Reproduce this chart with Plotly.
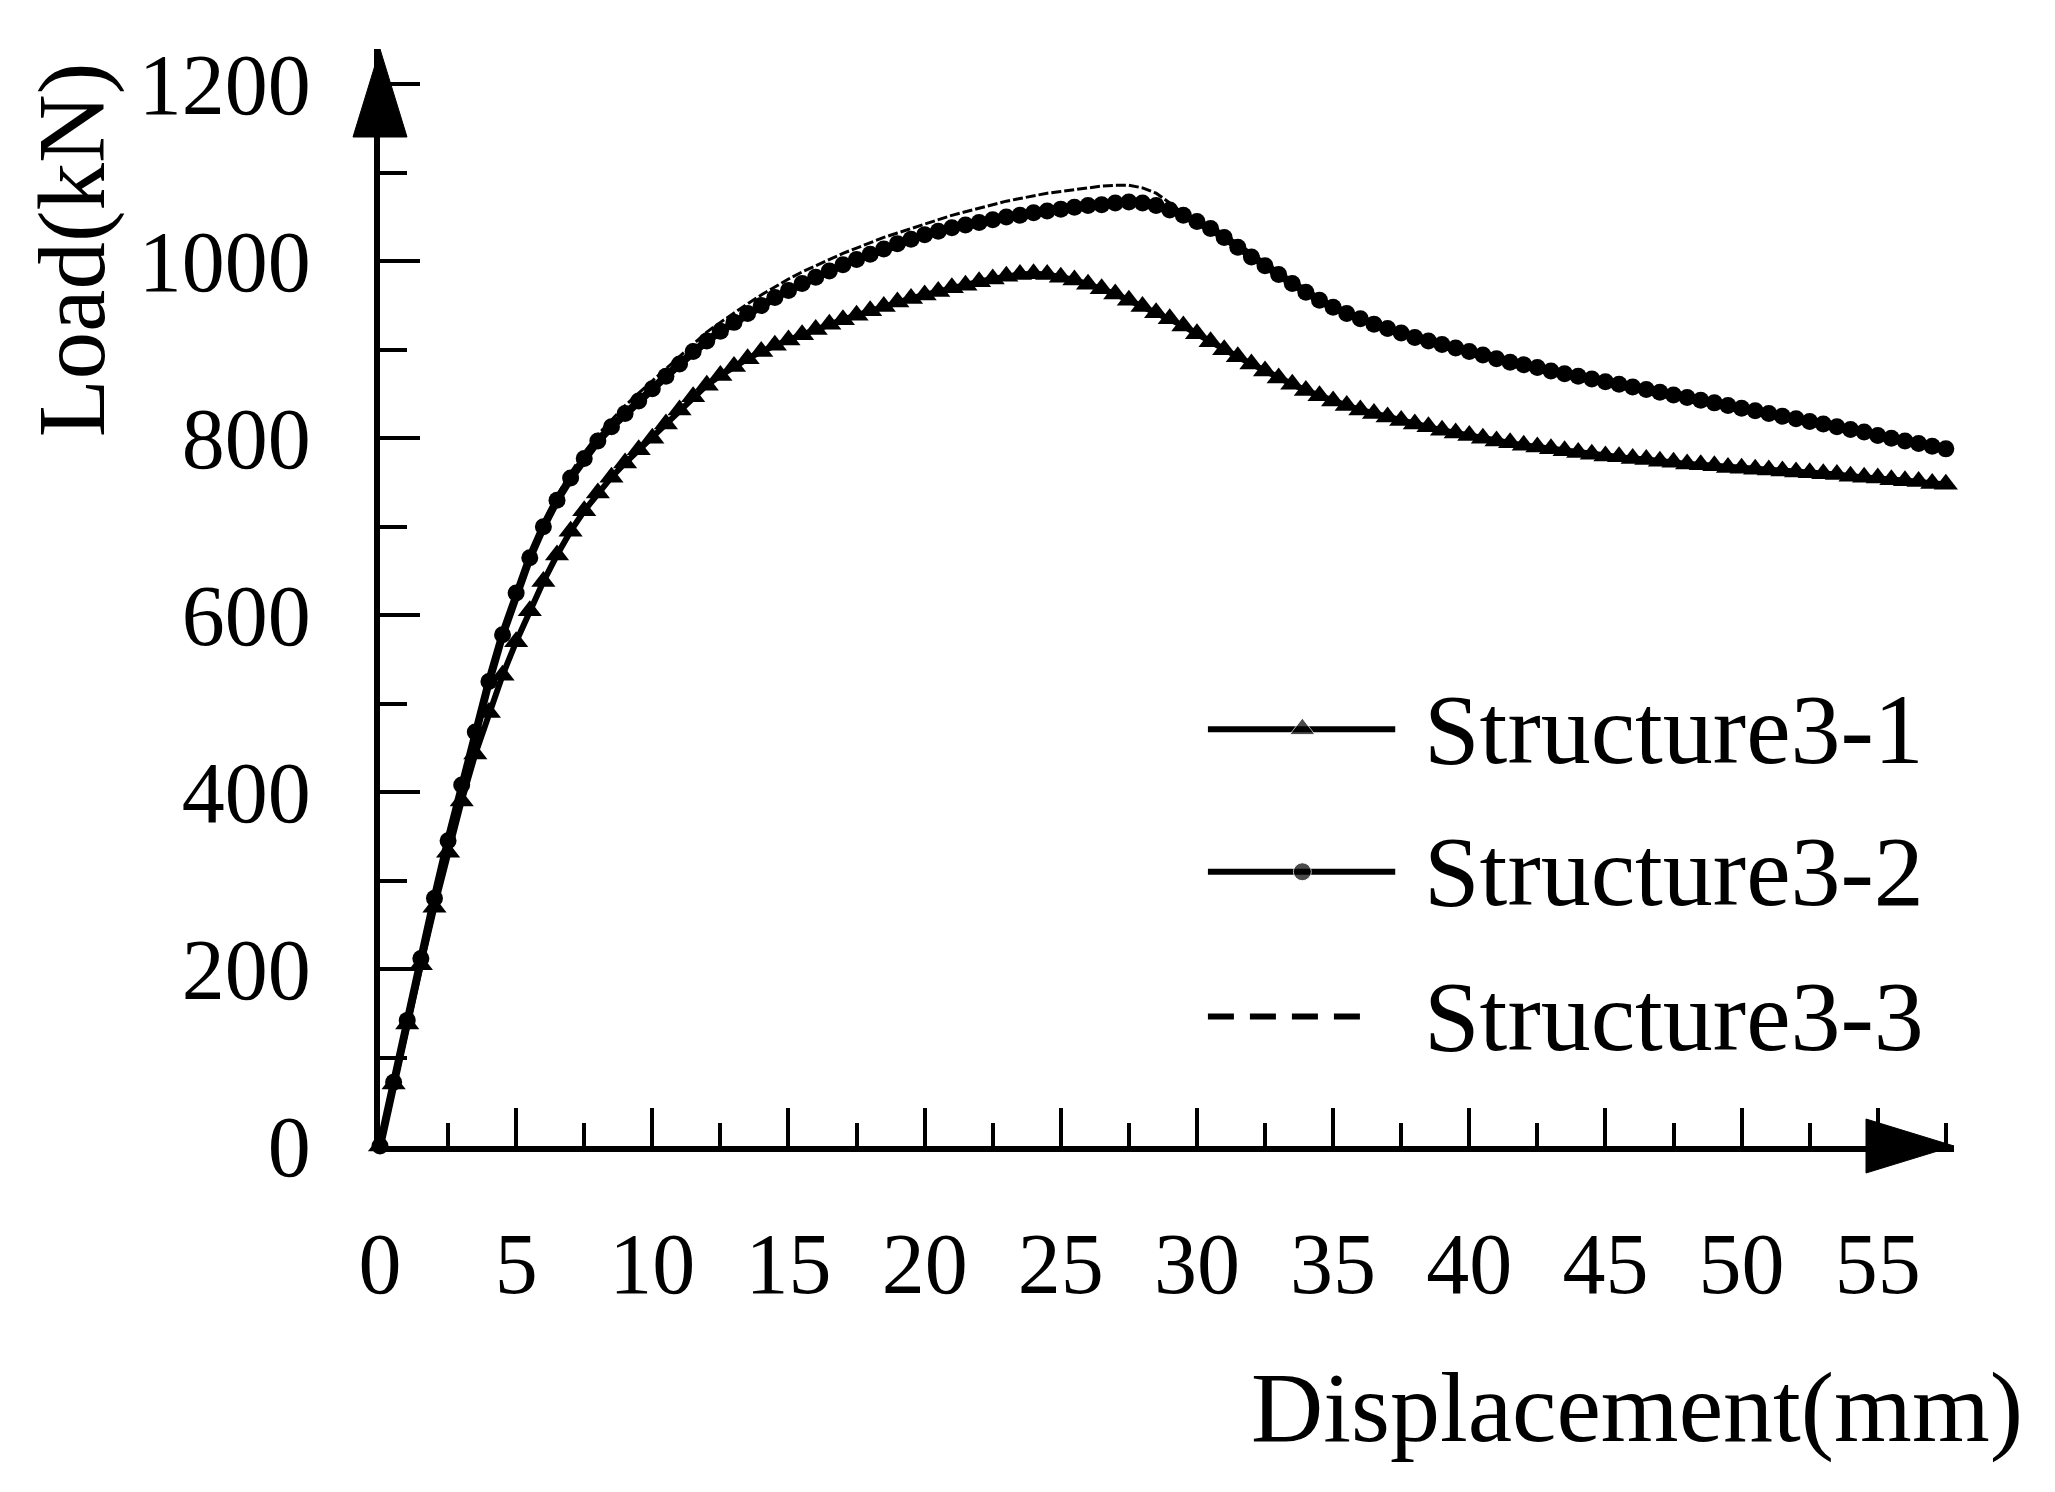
import plotly.graph_objects as go

# Load-displacement curves (0.5 mm sampling)
displacement = [
    0, 0.5, 1, 1.5, 2, 2.5, 3, 3.5, 4, 4.5, 5, 5.5, 6, 6.5, 7, 7.5, 8, 8.5, 9, 9.5,
    10, 10.5, 11, 11.5, 12, 12.5, 13, 13.5, 14, 14.5, 15, 15.5, 16, 16.5, 17, 17.5, 18, 18.5, 19, 19.5,
    20, 20.5, 21, 21.5, 22, 22.5, 23, 23.5, 24, 24.5, 25, 25.5, 26, 26.5, 27, 27.5, 28, 28.5, 29, 29.5,
    30, 30.5, 31, 31.5, 32, 32.5, 33, 33.5, 34, 34.5, 35, 35.5, 36, 36.5, 37, 37.5, 38, 38.5, 39, 39.5,
    40, 40.5, 41, 41.5, 42, 42.5, 43, 43.5, 44, 44.5, 45, 45.5, 46, 46.5, 47, 47.5, 48, 48.5, 49, 49.5,
    50, 50.5, 51, 51.5, 52, 52.5, 53, 53.5, 54, 54.5, 55, 55.5, 56, 56.5, 57, 57.5,
]

structure3_1 = [
    0, 70, 138, 205, 270, 332, 390, 443, 490, 532, 570, 605, 638, 668, 695, 718, 738, 756, 772, 787,
    800, 816, 832, 847, 860, 871, 881, 890, 898, 905, 911, 917, 923, 929, 934, 939, 944, 949, 954, 958,
    962, 966, 970, 973, 977, 980, 983, 985, 986, 985, 982, 979, 974, 969, 963, 956, 949, 942, 935, 927,
    918, 909, 900, 892, 884, 876, 868, 861, 854, 848, 842, 837, 832, 828, 824, 820, 816, 813, 809, 806,
    803, 800, 797, 795, 792, 790, 788, 786, 784, 782, 780, 779, 777, 776, 774, 773, 771, 770, 769, 767,
    766, 765, 764, 763, 762, 761, 760, 759, 757, 756, 755, 753, 752, 751, 749, 748,
]

structure3_2 = [
    0, 72, 142, 212, 280, 345, 408, 468, 525, 578, 625, 665, 700, 730, 755, 777, 797, 813, 828, 842,
    856, 870, 884, 898, 910, 921, 931, 941, 950, 959, 967, 975, 982, 989, 996, 1002, 1008, 1014, 1020, 1025,
    1030, 1034, 1038, 1041, 1044, 1047, 1050, 1052, 1055, 1057, 1059, 1061, 1063, 1064, 1066, 1067, 1066, 1063, 1058, 1052,
    1045, 1037, 1027, 1016, 1005, 995, 985, 975, 965, 956, 948, 941, 935, 929, 924, 919, 914, 910, 906, 902,
    898, 894, 890, 886, 883, 880, 876, 873, 870, 867, 864, 861, 858, 855, 852, 849, 846, 843, 840, 837,
    834, 831, 828, 825, 822, 819, 816, 813, 810, 807, 803, 800, 797, 794, 791, 788,
]

structure3_3 = [
    0, 73, 143, 213, 282, 347, 410, 470, 527, 580, 628, 669, 705, 735, 761, 784, 804, 821, 837, 851,
    865, 879, 893, 907, 920, 931, 942, 952, 962, 971, 980, 988, 995, 1002, 1009, 1015, 1021, 1027, 1032, 1037,
    1042, 1047, 1052, 1056, 1060, 1064, 1068, 1071, 1074, 1077, 1079, 1081, 1083, 1085, 1086, 1086, 1083, 1077, 1066, 1054,
    1045, 1037, 1027, 1016, 1005, 995, 985, 975, 965, 956, 948, 941, 935, 929, 924, 919, 914, 910, 906, 902,
    898, 894, 890, 886, 883, 880, 876, 873, 870, 867, 864, 861, 858, 855, 852, 849, 846, 843, 840, 837,
    834, 831, 828, 825, 822, 819, 816, 813, 810, 807, 803, 800, 797, 794, 791, 788,
]

series_names = ["Structure3-1", "Structure3-2", "Structure3-3"]
x_ticks = [0, 5, 10, 15, 20, 25, 30, 35, 40, 45, 50, 55]
y_ticks = [0, 200, 400, 600, 800, 1000, 1200]

FONT = "Liberation Serif"
X_MAX = 57.8
Y_MAX = 1240

fig = go.Figure()

fig.add_trace(go.Scatter(x=displacement, y=structure3_1, mode="lines+markers", name=series_names[0],
                         line=dict(color="black", width=6),
                         marker=dict(symbol="triangle-up", size=21, color="black"),
                         cliponaxis=False))
fig.add_trace(go.Scatter(x=displacement, y=structure3_2, mode="lines+markers", name=series_names[1],
                         line=dict(color="black", width=8),
                         marker=dict(symbol="circle", size=17, color="black"),
                         cliponaxis=False))
fig.add_trace(go.Scatter(x=displacement, y=structure3_3, mode="lines", name=series_names[2],
                         line=dict(color="black", width=3, dash="10px,3px"),
                         cliponaxis=False))

# hand-made legend keys on an invisible overlay axis (fractions of the plot area)
key_rows = [0.380, 0.250, 0.118]
fig.add_trace(go.Scatter(x=[0.526, 0.586, 0.645], y=[key_rows[0]] * 3, xaxis="x2", yaxis="y2",
                         mode="lines+markers", line=dict(color="black", width=6),
                         marker=dict(symbol="triangle-up", size=[0, 22, 0], color="black"),
                         hoverinfo="skip"))
fig.add_trace(go.Scatter(x=[0.526, 0.586, 0.645], y=[key_rows[1]] * 3, xaxis="x2", yaxis="y2",
                         mode="lines+markers", line=dict(color="black", width=6),
                         marker=dict(symbol="circle", size=[0, 18, 0], color="black"),
                         hoverinfo="skip"))
fig.add_trace(go.Scatter(x=[0.526, 0.630], y=[key_rows[2]] * 2, xaxis="x2", yaxis="y2",
                         mode="lines", line=dict(color="black", width=6, dash="26px,16px"),
                         hoverinfo="skip"))

for name, row in zip(series_names, key_rows):
    fig.add_annotation(x=0.662, y=row, xref="paper", yref="paper", text=name, showarrow=False,
                       xanchor="left", yanchor="middle", font=dict(family=FONT, size=100, color="black"))

# axis titles
fig.add_annotation(x=1.045, y=-0.238, xref="paper", yref="paper", text="Displacement(mm)",
                   showarrow=False, xanchor="right", yanchor="middle",
                   font=dict(family=FONT, size=100, color="black"))
fig.add_annotation(x=-0.196, y=0.817, xref="paper", yref="paper", text="Load(kN)", textangle=-90,
                   showarrow=False, xanchor="center", yanchor="middle",
                   font=dict(family=FONT, size=95, color="black"))

# arrow heads at the ends of both axes
fig.add_shape(type="path", xref="paper", yref="paper", xsizemode="pixel", ysizemode="pixel",
              xanchor=1, yanchor=0, path="M -88,27 L 0,0 L -88,-27 Z",
              fillcolor="black", line=dict(color="black", width=1))
fig.add_shape(type="path", xref="paper", yref="paper", xsizemode="pixel", ysizemode="pixel",
              xanchor=0, yanchor=1, path="M -27,-88 L 0,0 L 27,-88 Z",
              fillcolor="black", line=dict(color="black", width=1))

fig.update_layout(
    width=2055, height=1492,
    margin=dict(l=372, r=109, t=41, b=354),
    plot_bgcolor="white", paper_bgcolor="white",
    showlegend=False,
    font=dict(family=FONT, size=86, color="black"),
    xaxis=dict(range=[0, X_MAX], tickvals=x_ticks, showgrid=False, zeroline=False,
               showline=True, linecolor="black", linewidth=6,
               ticks="inside", ticklen=38, tickwidth=4, tickcolor="black",
               ticklabelstandoff=38,
               minor=dict(dtick=2.5, ticks="inside", ticklen=23, tickwidth=4, tickcolor="black"),
               tickfont=dict(family=FONT, size=86)),
    yaxis=dict(range=[0, Y_MAX], tickvals=y_ticks, showgrid=False, zeroline=False,
               showline=True, linecolor="black", linewidth=6,
               ticks="inside", ticklen=40, tickwidth=4, tickcolor="black",
               ticklabelstandoff=46,
               minor=dict(dtick=100, ticks="inside", ticklen=27, tickwidth=4, tickcolor="black"),
               tickfont=dict(family=FONT, size=86)),
    xaxis2=dict(overlaying="x", range=[0, 1], visible=False),
    yaxis2=dict(overlaying="y", range=[0, 1], visible=False),
)

fig.write_html("out.html")
